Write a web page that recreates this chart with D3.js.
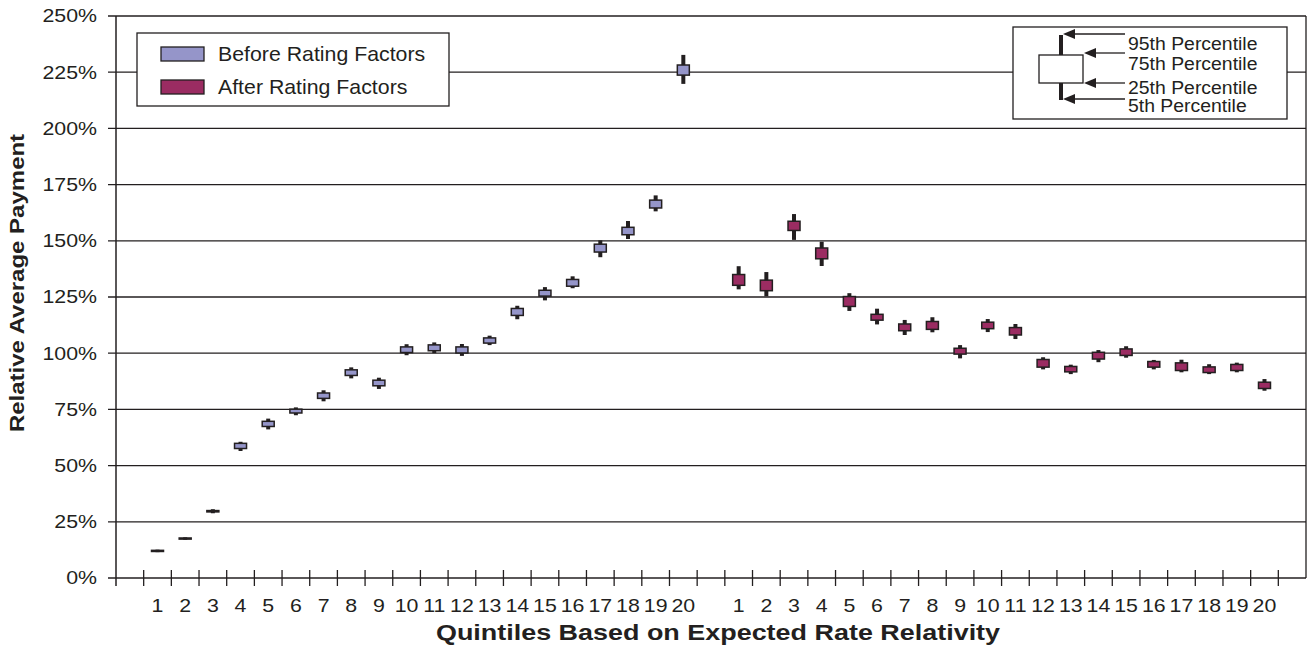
<!DOCTYPE html>
<html>
<head>
<meta charset="utf-8">
<script src="https://cdn.jsdelivr.net/npm/d3@7"></script>
<style>
  html, body { margin: 0; padding: 0; background: #fff; }
  svg { display: block; font-family: "Liberation Sans", Arial, Helvetica, sans-serif; }
</style>
</head>
<body>
<svg id="chart" width="1313" height="647"></svg>
<script>
// Quintile categories shown under each group
const quintileLabels = ["1","2","3","4","5","6","7","8","9","10","11","12","13","14","15","16","17","18","19","20"];

// Y axis ticks (percent)
const yTickValues = [0, 25, 50, 75, 100, 125, 150, 175, 200, 225, 250];
const yTickLabels = ["0%","25%","50%","75%","100%","125%","150%","175%","200%","225%","250%"];

const seriesNames = ["Before Rating Factors", "After Rating Factors"];
const seriesColors = ["#9595c9", "#9b2c62"];

// Before rating factors: 5th, 25th, 75th, 95th percentiles (%)
const beforeP5  = [11.5, 17.0, 28.8, 56.5, 66.1, 72.4, 78.6, 88.8, 84.1, 99.1, 100.0, 98.8, 103.6, 115.1, 123.5, 128.9, 142.7, 150.8, 163.1, 219.8];
const beforeQ1  = [11.8, 17.3, 29.4, 57.6, 67.4, 73.4, 79.9, 90.1, 85.5, 100.3, 101.1, 100.1, 104.5, 116.8, 125.4, 129.8, 145.0, 152.7, 164.6, 223.7];
const beforeQ3  = [12.3, 17.8, 30.0, 59.9, 69.7, 75.1, 82.3, 92.6, 88.0, 102.8, 103.7, 102.8, 106.8, 119.9, 128.0, 132.8, 148.5, 156.0, 168.1, 228.2];
const beforeP95 = [12.6, 18.1, 30.6, 60.6, 70.9, 75.9, 83.5, 93.7, 89.1, 104.0, 104.8, 104.1, 107.8, 121.1, 129.4, 134.2, 150.2, 158.8, 170.2, 232.7];

// After rating factors: 5th, 25th, 75th, 95th percentiles (%)
const afterP5  = [128.4, 125.3, 150.4, 138.8, 118.8, 112.8, 108.1, 109.3, 97.7, 109.4, 106.3, 92.8, 90.7, 96.0, 98.0, 92.8, 91.5, 90.7, 91.5, 83.3];
const afterQ1  = [130.2, 127.8, 154.6, 142.0, 120.8, 114.7, 110.0, 110.6, 99.6, 110.9, 108.1, 93.8, 91.7, 97.4, 99.0, 93.8, 92.3, 91.4, 92.3, 84.3];
const afterQ3  = [135.0, 132.5, 158.7, 146.8, 125.2, 117.3, 113.0, 114.1, 102.2, 113.8, 111.4, 97.2, 94.1, 100.4, 101.9, 96.3, 95.7, 93.9, 95.0, 87.1];
const afterP95 = [138.7, 136.1, 161.9, 149.6, 126.7, 119.8, 114.8, 116.0, 103.6, 115.2, 113.0, 98.2, 94.9, 101.4, 103.1, 97.0, 97.1, 95.1, 95.8, 88.5];

const percentileLabels = ["95th Percentile", "75th Percentile", "25th Percentile", "5th Percentile"];

const ink = "#231f20";
const svg = d3.select("#chart");

// Slots: an empty slot at each end and one between the two groups
const slotKeys = ["lead"]
  .concat(quintileLabels.map(q => "B" + q))
  .concat(["gap"])
  .concat(quintileLabels.map(q => "A" + q))
  .concat(["tail"]);

const plot = { left: 116, right: 1306, top: 16, bottom: 578 };

const x = d3.scaleBand().domain(slotKeys).range([plot.left, plot.right]).padding(0);
const y = d3.scaleLinear().domain([0, 250]).range([plot.bottom, plot.top]);
const bw = x.bandwidth();

// Horizontal gridlines (including the baseline)
svg.append("g").selectAll("line").data(yTickValues).join("line")
  .attr("x1", plot.left - 8).attr("x2", plot.right)
  .attr("y1", d => y(d)).attr("y2", d => y(d))
  .attr("stroke", ink).attr("stroke-width", 1.3);

// Y axis and right border
svg.append("line").attr("x1", plot.left).attr("x2", plot.left)
  .attr("y1", plot.top).attr("y2", plot.bottom + 8)
  .attr("stroke", ink).attr("stroke-width", 1.5);
svg.append("line").attr("x1", plot.right).attr("x2", plot.right)
  .attr("y1", plot.top).attr("y2", plot.bottom)
  .attr("stroke", ink).attr("stroke-width", 1.3);

// Y tick labels
svg.append("g").selectAll("text").data(yTickValues).join("text")
  .attr("transform", d => `translate(97,${y(d)}) scale(1.22,1)`)
  .attr("text-anchor", "end").attr("dy", "0.36em")
  .attr("font-size", 17.5).attr("fill", ink)
  .text((d, i) => yTickLabels[i]);

// X ticks at slot boundaries
const tickKeys = slotKeys.slice(1);
svg.append("g").selectAll("line").data(tickKeys).join("line")
  .attr("x1", d => x(d)).attr("x2", d => x(d))
  .attr("y1", plot.bottom - 8).attr("y2", plot.bottom + 8)
  .attr("stroke", ink).attr("stroke-width", 1.3);

// X tick labels for both groups
const labelled = slotKeys.filter(k => k[0] === "B" || k[0] === "A");
svg.append("g").selectAll("text").data(labelled).join("text")
  .attr("transform", d => `translate(${x(d) + bw / 2},612) scale(1.22,1)`)
  .attr("text-anchor", "middle")
  .attr("font-size", 17.5).attr("fill", ink)
  .text(d => d.slice(1));

// Box-and-whisker marks
function drawSeries(prefix, p5, q1, q3, p95, color) {
  const rows = quintileLabels.map((q, i) => ({ key: prefix + q, p5: p5[i], q1: q1[i], q3: q3[i], p95: p95[i] }));
  const g = svg.append("g");
  g.selectAll("line").data(rows).join("line")
    .attr("x1", d => x(d.key) + bw / 2).attr("x2", d => x(d.key) + bw / 2)
    .attr("y1", d => y(d.p95)).attr("y2", d => y(d.p5))
    .attr("stroke", ink).attr("stroke-width", 4);
  g.selectAll("rect").data(rows).join("rect")
    .attr("x", d => x(d.key) + bw / 2 - 6)
    .attr("width", 12)
    .attr("y", d => y(d.q3))
    .attr("height", d => Math.max(0.5, y(d.q1) - y(d.q3)))
    .attr("fill", color).attr("stroke", ink).attr("stroke-width", 1.5);
}
drawSeries("B", beforeP5, beforeQ1, beforeQ3, beforeP95, seriesColors[0]);
drawSeries("A", afterP5, afterQ1, afterQ3, afterP95, seriesColors[1]);

// Series legend
const leg = svg.append("g");
leg.append("rect").attr("x", 137).attr("y", 33).attr("width", 312).attr("height", 73)
  .attr("fill", "#fff").attr("stroke", ink).attr("stroke-width", 1.3);
seriesNames.forEach((name, i) => {
  leg.append("rect").attr("x", 161).attr("y", 47 + i * 33).attr("width", 43).attr("height", 14)
    .attr("fill", seriesColors[i]).attr("stroke", ink).attr("stroke-width", 1.3);
  leg.append("text").attr("transform", `translate(218,${61 + i * 33}) scale(1.065,1)`)
    .attr("font-size", 20).attr("fill", ink).text(name);
});

// Percentile key
const key = svg.append("g");
key.append("rect").attr("x", 1013).attr("y", 27).attr("width", 274).attr("height", 92)
  .attr("fill", "#fff").attr("stroke", ink).attr("stroke-width", 1.3);
key.append("line").attr("x1", 1061).attr("x2", 1061).attr("y1", 35).attr("y2", 100)
  .attr("stroke", ink).attr("stroke-width", 4);
key.append("rect").attr("x", 1039).attr("y", 55).attr("width", 44).attr("height", 28)
  .attr("fill", "#fff").attr("stroke", ink).attr("stroke-width", 1.3);
const arrows = [
  { tip: 1063, y: 34, base: 50 },
  { tip: 1084, y: 53, base: 70 },
  { tip: 1084, y: 83, base: 94 },
  { tip: 1063, y: 99, base: 112 }
];
arrows.forEach((a, i) => {
  key.append("line").attr("x1", a.tip + 10).attr("x2", 1125).attr("y1", a.y).attr("y2", a.y)
    .attr("stroke", ink).attr("stroke-width", 1.3);
  key.append("path").attr("d", `M${a.tip},${a.y} L${a.tip + 12},${a.y - 5} L${a.tip + 12},${a.y + 5} Z`)
    .attr("fill", ink);
  key.append("text").attr("transform", `translate(1128,${a.base}) scale(1.05,1)`)
    .attr("font-size", 18.5).attr("fill", ink).text(percentileLabels[i]);
});

// Axis titles
svg.append("text").attr("transform", "translate(718,640) scale(1.225,1)").attr("text-anchor", "middle")
  .attr("font-size", 22).attr("font-weight", "bold").attr("fill", ink)
  .text("Quintiles Based on Expected Rate Relativity");
svg.append("text").attr("transform", "translate(24,283) rotate(-90) scale(1.2,1)").attr("text-anchor", "middle")
  .attr("font-size", 20).attr("font-weight", "bold").attr("fill", ink)
  .text("Relative Average Payment");
</script>
</body>
</html>
